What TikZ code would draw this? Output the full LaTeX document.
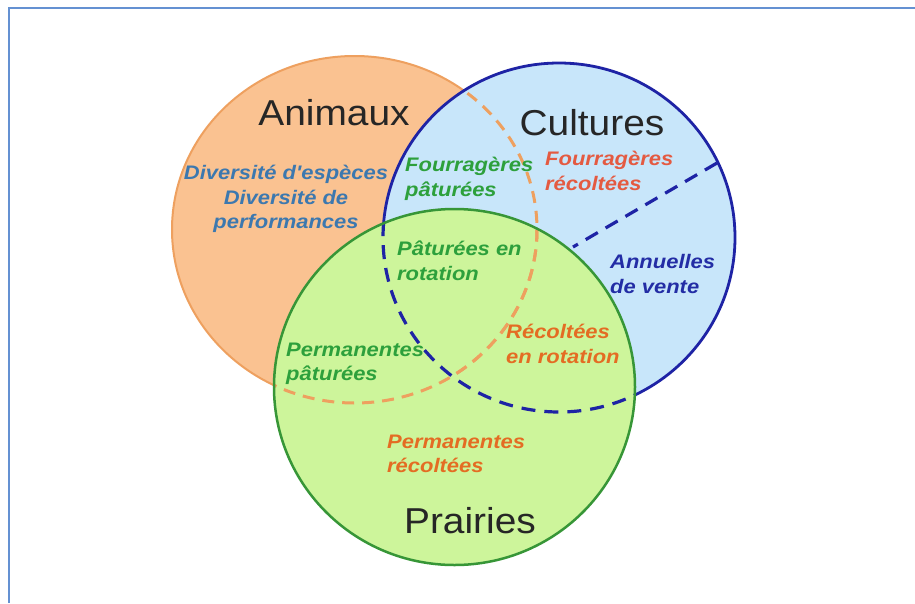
\documentclass[tikz,border=0pt]{standalone}
\usepackage{fontspec}
\newfontfamily\titlefont[FakeStretch=1.08]{Liberation Sans}
\newfontfamily\labfont[FakeStretch=1.12]{Liberation Sans}
\definecolor{frameblue}{RGB}{100,145,210}
\definecolor{orfill}{RGB}{250,194,145}
\definecolor{ordraw}{RGB}{238,160,95}
\definecolor{blfill}{RGB}{200,230,250}
\definecolor{bldraw}{RGB}{30,35,165}
\definecolor{grfill}{RGB}{205,245,155}
\definecolor{grdraw}{RGB}{55,150,55}
\definecolor{txtsteel}{RGB}{60,120,175}
\definecolor{txtgreen}{RGB}{45,160,60}
\definecolor{txtred}{RGB}{228,90,65}
\definecolor{txtorange}{RGB}{228,108,35}
\definecolor{txtblue}{RGB}{35,45,165}
\tikzset{
  title/.style={font=\titlefont\fontsize{36}{40}\selectfont, text=black!85, inner sep=0pt},
  lab/.style={font=\labfont\bfseries\itshape\fontsize{19.6}{24.5}\selectfont, inner sep=0pt, align=left, anchor=west},
  labc/.style={font=\labfont\bfseries\itshape\fontsize{19.6}{24.5}\selectfont, inner sep=0pt, align=center},
  ordash/.style={draw=ordraw, line width=3pt, dash pattern=on 12pt off 8pt},
  bldash/.style={draw=bldraw, line width=3.2pt, dash pattern=on 14pt off 9pt},
}
\begin{document}
\begin{tikzpicture}[x=1pt,y=-1pt]
\useasboundingbox (0,0) rectangle (915,603);
\fill[white] (0,0) rectangle (915,603);
% frame
\coordinate (fbl) at (9,603);
\coordinate (ftl) at (9,8);
\coordinate (ftr) at (915,8);
\draw[frameblue, line width=2pt] (fbl) -- (ftl) -- (ftr);
% circles
\def\orpath{(354.5,229.5) ellipse [x radius=182.5, y radius=173.5]}
\def\blpath{(559,237.5) ellipse [x radius=176, y radius=174.5]}
\def\grpath{(454.5,387) ellipse [x radius=180.5, y radius=178]}
\fill[orfill] \orpath;
\draw[ordraw, line width=2pt] \orpath;
\fill[blfill] \blpath;
\draw[bldraw, line width=2.8pt] \blpath;
\fill[grfill] \grpath;
% dashed parts
\begin{scope}
  \clip \blpath;
  \draw[ordash] \orpath;
\end{scope}
\begin{scope}
  \clip \grpath;
  \draw[ordash] \orpath;
  \draw[bldash] \blpath;
\end{scope}
\draw[grdraw, line width=2.5pt] \grpath;
% divider inside Cultures
\coordinate (d1) at (717,163);
\coordinate (d2) at (573,247);
\draw[bldash] (d1) -- (d2);
% titles
\node[title] (tanim) at (334,113) {Animaux};
\node[title] (tcult) at (592,123) {Cultures};
\node[title] (tprai) at (470,521) {Prairies};
% labels
\node[labc, text=txtsteel] (ldiv) at (286,199) {Diversité d'espèces\\Diversité de\\performances};
\node[lab, text=txtgreen] (lfp) at (405,179) {Fourragères\\pâturées};
\node[lab, text=txtred] (lfr) at (545,171) {Fourragères\\récoltées};
\node[lab, text=txtgreen] (lpr) at (397,261) {Pâturées en\\rotation};
\node[lab, text=txtblue] (lav) at (610,274) {Annuelles\\de vente};
\node[lab, text=txtorange] (lrr) at (506,344) {Récoltées\\en rotation};
\node[lab, text=txtgreen] (lpp) at (286,364) {Permanentes\\pâturées};
\node[lab, text=txtorange] (lpre) at (387,454) {Permanentes\\récoltées};
\end{tikzpicture}
\end{document}
